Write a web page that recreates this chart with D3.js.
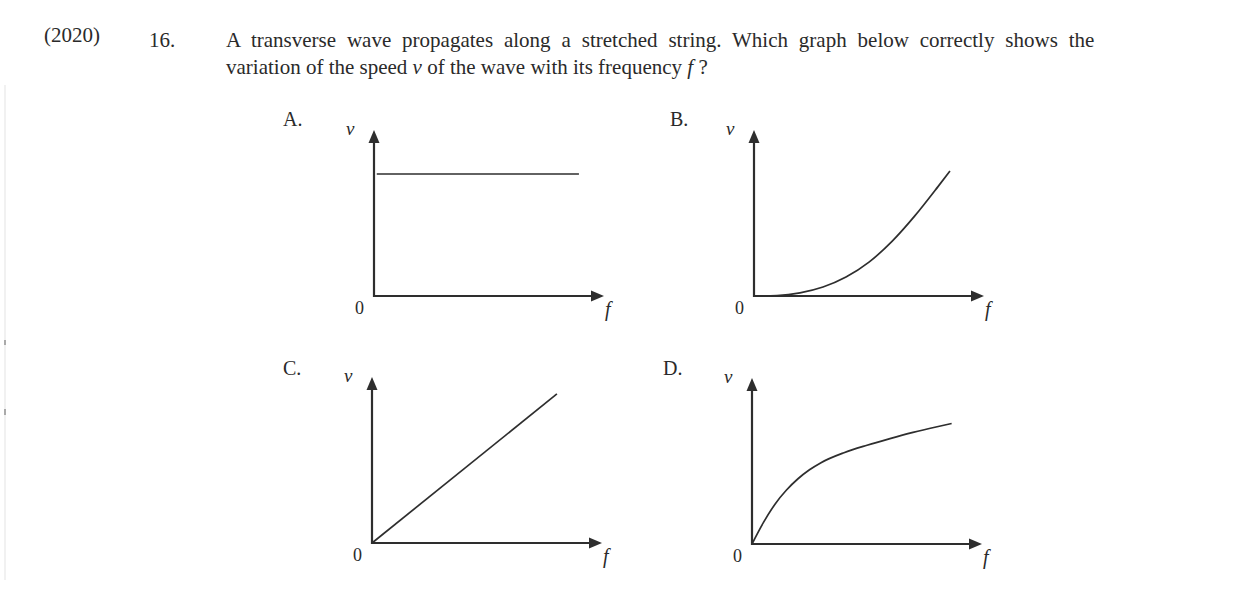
<!DOCTYPE html>
<html>
<head>
<meta charset="utf-8">
<script src="https://cdn.jsdelivr.net/npm/d3@7"></script>
<style>
  html, body { margin: 0; padding: 0; background: #fff; }
  svg { display: block; }
  text { font-family: "Liberation Serif", "Times New Roman", serif; fill: #2a2a2a; }
</style>
</head>
<body>
<svg id="chart" width="1240" height="590"></svg>
<script>
// ---------- data ----------
const year = "(2020)";
const questionNumber = "16.";
const questionLine1 = "A transverse wave propagates along a stretched string.  Which graph below correctly shows the";
const questionLine2 = ["variation of the speed ", "v", " of the wave with its frequency ", "f", " ?"];
const panelLabels = ["A.", "B.", "C.", "D."];
const yAxisName = "v";
const xAxisName = "f";
const originTick = "0";
// curve points in axis units (f, v); each axis runs 0..10
const seriesA = [[0.12, 7.35], [8.91, 7.35]];
const seriesB = [[0, 0], [1, 0.03], [2, 0.19], [3, 0.54], [4, 1.14], [5, 2.04], [6, 3.29], [7, 4.84], [8, 6.59], [8.52, 7.53]];
const seriesC = [[0, 0], [8.04, 8.98]];
const seriesD = [[0, 0], [0.5, 1.3], [1, 2.4], [1.5, 3.25], [2, 3.93], [2.5, 4.47], [3, 4.9], [4, 5.5], [5, 5.95], [6, 6.35], [7, 6.72], [8, 7.05], [8.68, 7.26]];
const allSeries = [seriesA, seriesB, seriesC, seriesD];

// ---------- layout ----------
const svg = d3.select("#chart");
const ink = "#2e2e2e";
const origins = [[374, 296], [754, 296], [372, 543], [752, 544]];
const labelPos = [[283, 126], [670, 126], [283, 375], [663, 375]];
const xLen = 230, yLen = 166;
const fs = 21;

// header
svg.append("text").attr("x", 44).attr("y", 42).attr("font-size", fs).text(year);
svg.append("text").attr("x", 149).attr("y", 47).attr("font-size", fs).text(questionNumber);
const l1 = svg.append("text").attr("x", 226).attr("y", 47).attr("font-size", fs).text(questionLine1);
const natural = l1.node().getComputedTextLength();
const spaces = (questionLine1.match(/ /g) || []).length;
l1.attr("word-spacing", (874 - natural) / spaces);
const l2 = svg.append("text").attr("x", 226).attr("y", 74).attr("font-size", fs);
questionLine2.forEach((t, i) => {
  l2.append("tspan").attr("font-style", i % 2 === 1 ? "italic" : null).text(t);
});

// faint scan edge on the left
svg.append("line").attr("x1", 5).attr("x2", 5).attr("y1", 85).attr("y2", 580)
  .attr("stroke", "#ececec").attr("stroke-width", 1.5);
svg.append("rect").attr("x", 4).attr("y", 340).attr("width", 2).attr("height", 5).attr("fill", "#aaa");
svg.append("rect").attr("x", 4).attr("y", 409).attr("width", 2).attr("height", 6).attr("fill", "#aaa");

allSeries.forEach((data, i) => {
  const [ox, oy] = origins[i];
  const x = d3.scaleLinear().domain([0, 10]).range([ox, ox + xLen]);
  const y = d3.scaleLinear().domain([0, 10]).range([oy, oy - yLen]);
  const g = svg.append("g");

  // axes
  g.append("line").attr("x1", x(0)).attr("y1", y(0) + 1).attr("x2", x(0)).attr("y2", y(10) + 10)
    .attr("stroke", ink).attr("stroke-width", 2.2);
  g.append("line").attr("x1", x(0) - 1).attr("y1", y(0)).attr("x2", x(10) - 10).attr("y2", y(0))
    .attr("stroke", ink).attr("stroke-width", 2.2);
  // arrowheads
  g.append("path").attr("d", `M${x(0)},${y(10)} L${x(0) - 5.5},${y(10) + 13} L${x(0) + 5.5},${y(10) + 13} Z`).attr("fill", ink);
  g.append("path").attr("d", `M${x(10)},${y(0)} L${x(10) - 13},${y(0) - 5.5} L${x(10) - 13},${y(0) + 5.5} Z`).attr("fill", ink);

  // curve
  const line = d3.line().x(d => x(d[0])).y(d => y(d[1])).curve(d3.curveMonotoneX);
  g.append("path").datum(data).attr("d", line).attr("fill", "none")
    .attr("stroke", ink).attr("stroke-width", 1.7);

  // labels
  svg.append("text").attr("x", labelPos[i][0]).attr("y", labelPos[i][1]).attr("font-size", 20).text(panelLabels[i]);
  g.append("text").attr("x", x(0) - 28).attr("y", y(10) + 5).attr("font-size", 19)
    .attr("font-style", "italic").text(yAxisName);
  g.append("text").attr("x", x(0) - 19).attr("y", y(0) + 18).attr("font-size", 18).text(originTick);
  g.append("text").attr("x", x(10) + 1).attr("y", y(0) + 20).attr("font-size", 20)
    .attr("font-style", "italic").text(xAxisName);
});
</script>
</body>
</html>
